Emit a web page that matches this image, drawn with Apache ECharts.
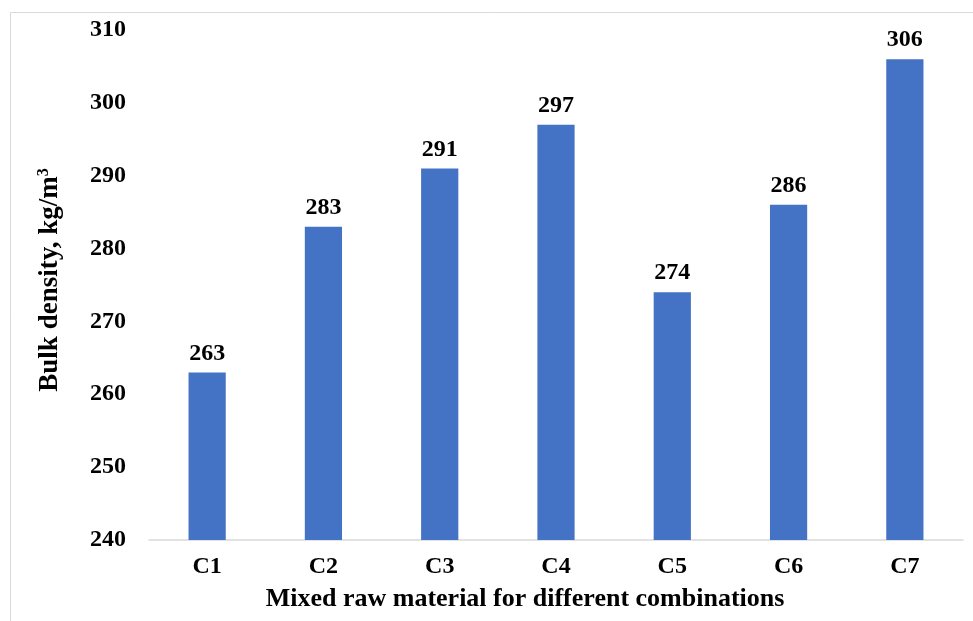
<!DOCTYPE html>
<html>
<head>
<meta charset="utf-8">
<script src="https://cdn.jsdelivr.net/npm/echarts@6/dist/echarts.min.js"></script>
<style>
  html, body { margin: 0; padding: 0; background: #ffffff; overflow: hidden; }
  #chart { width: 973px; height: 621px; }
</style>
</head>
<body>
<div id="chart"></div>
<script>
// Combinations and their measured bulk density (kg/m³)
const categories = ['C1', 'C2', 'C3', 'C4', 'C5', 'C6', 'C7'];
const bulkDensity = [263, 283, 291, 297, 274, 286, 306];
const yTicks = [240, 250, 260, 270, 280, 290, 300, 310];

const serif = '"Liberation Serif", "Times New Roman", serif';
const chart = echarts.init(document.getElementById('chart'));

chart.setOption({
  animation: false,
  backgroundColor: '#ffffff',
  graphic: [{
    type: 'rect',
    shape: { x: 10.5, y: 12.5, width: 1000, height: 700 },
    style: { fill: 'none', stroke: '#d9d9d9', lineWidth: 1 },
    silent: true
  }],
  grid: { left: 149, width: 814, top: 30, height: 510, containLabel: false },
  xAxis: {
    type: 'category',
    data: categories,
    name: 'Mixed raw material for different combinations',
    nameLocation: 'middle',
    nameGap: 46,
    nameTextStyle: {
      fontFamily: serif, fontWeight: 'bold', fontSize: 26, color: '#000',
      padding: [0, 62, 0, 0]
    },
    axisLine: { lineStyle: { color: '#d9d9d9', width: 1.5 } },
    axisTick: { show: false },
    axisLabel: { fontFamily: serif, fontWeight: 'bold', fontSize: 24, color: '#000', margin: 15 }
  },
  yAxis: {
    type: 'value',
    min: yTicks[0],
    max: yTicks[yTicks.length - 1],
    interval: 10,
    name: '{b|Bulk density, kg/m}{s|3}',
    nameLocation: 'middle',
    nameGap: 85,
    nameTextStyle: {
      fontFamily: serif, fontWeight: 'bold', fontSize: 27, color: '#000',
      padding: [0, 0, 0, 10],
      rich: {
        b: { fontFamily: serif, fontWeight: 'bold', fontSize: 27, color: '#000' },
        s: { fontFamily: serif, fontWeight: 'bold', fontSize: 16, color: '#000', verticalAlign: 'top', padding: [0, 0, 12, 0] }
      }
    },
    axisLine: { show: false },
    axisTick: { show: false },
    splitLine: { show: false },
    axisLabel: { fontFamily: serif, fontWeight: 'bold', fontSize: 24, color: '#000', margin: 23 }
  },
  series: [{
    type: 'bar',
    data: bulkDensity,
    barWidth: '32%',
    itemStyle: { color: '#4472C4' },
    label: {
      show: true,
      position: 'top',
      distance: 7,
      fontFamily: serif,
      fontWeight: 'bold',
      fontSize: 24,
      color: '#000'
    }
  }]
});
</script>
</body>
</html>
